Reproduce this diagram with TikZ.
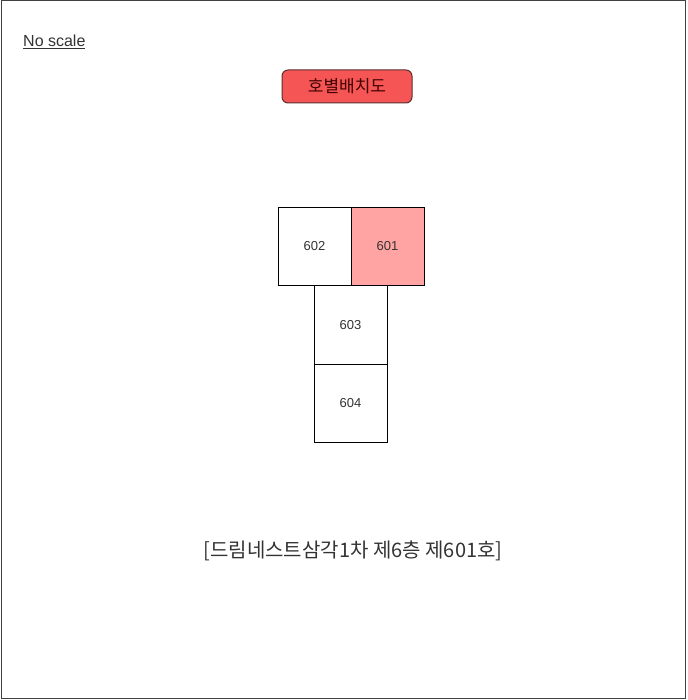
\documentclass[tikz,border=0pt]{standalone}
\usepackage{fontspec}
\setmainfont{Liberation Sans}
\newfontfamily\kr{Noto Sans CJK KR}
\definecolor{titlefill}{HTML}{F55555}
\definecolor{titledraw}{HTML}{5A3030}
\definecolor{roomred}{HTML}{FFA3A3}
\definecolor{txtgray}{HTML}{333333}
\begin{document}
\begin{tikzpicture}[x=1pt,y=-1pt,
  room/.style={draw=black,line width=0.8pt,minimum width=73pt,minimum height=78.5pt,inner sep=0pt,font=\fontsize{13}{15}\selectfont,text=txtgray},
  titlebox/.style={draw=titledraw,fill=titlefill,rounded corners=6pt,line width=1pt,minimum width=130pt,minimum height=33pt,inner sep=0pt,font=\kr\fontsize{17}{19}\selectfont,text=black!75!red}]
\useasboundingbox (0,0) rectangle (687,700);
\draw[line width=1pt,draw=black!75] (1,1) rectangle (685.5,698.5);
\node[anchor=west,inner sep=0pt,font=\fontsize{16}{18}\selectfont,text=txtgray] (ns) at (23,42) {\underline{No scale}};
\node[titlebox] (title) at (347,86.5) {호별배치도};
\node[room] (r602) at (314.5,246.5) {602};
\node[room,fill=roomred] (r601) at (387.5,246.5) {601};
\node[room] (r603) at (350.5,325) {603};
\node[room] (r604) at (350.5,403.5) {604};
\node[font=\kr\fontsize{20}{23}\selectfont,text=txtgray] (cap) at (353,551) {[드림네스트삼각1차 제6층 제601호]};
\end{tikzpicture}
\end{document}
